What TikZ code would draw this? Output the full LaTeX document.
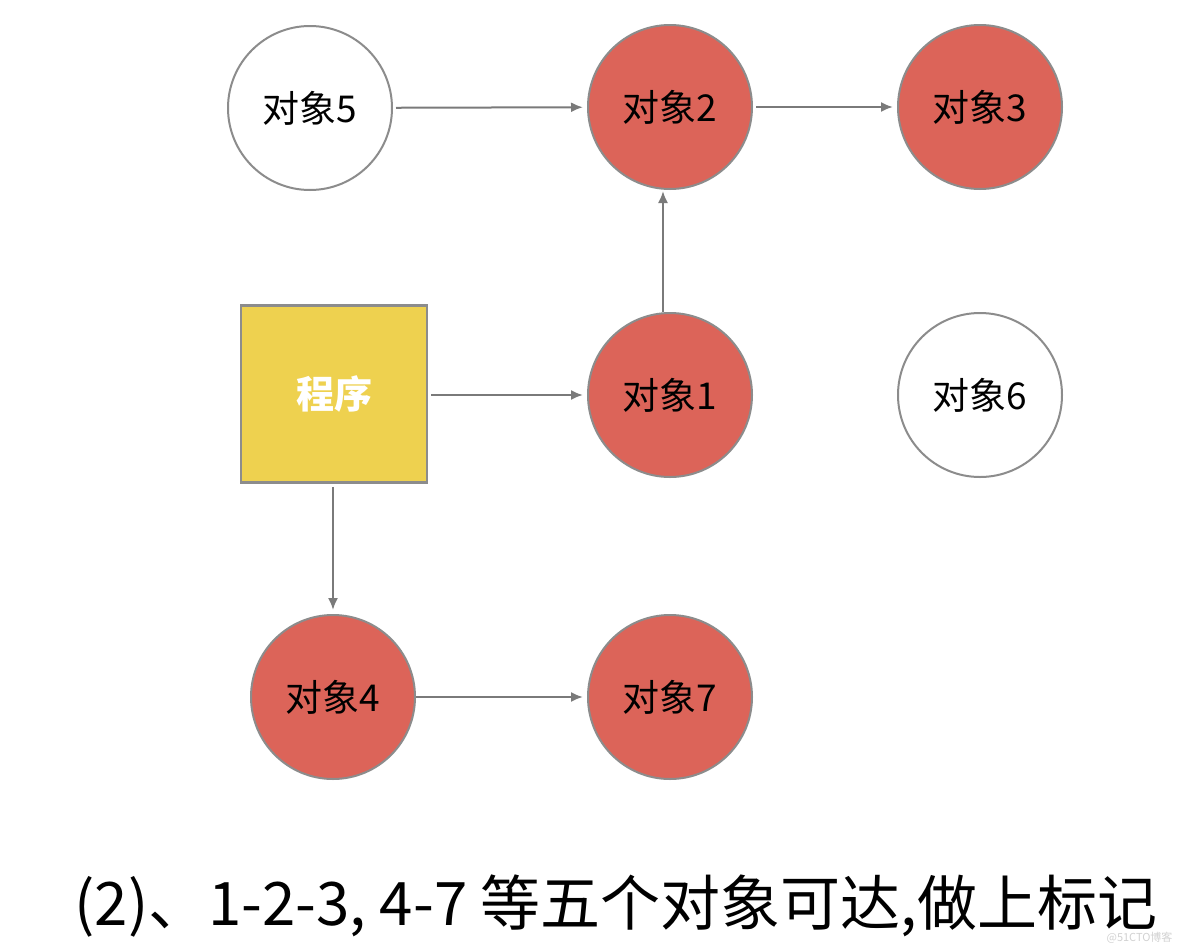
\documentclass[tikz,border=0pt]{standalone}
\usepackage{fontspec}
\setmainfont{Noto Sans CJK SC}
\usetikzlibrary{arrows.meta}
\definecolor{objred}{HTML}{DC6459}
\definecolor{progyellow}{HTML}{EED14F}
\definecolor{bordergray}{HTML}{8C8C8C}
\definecolor{arrowgray}{HTML}{7A7A7A}
\tikzset{
  obj/.style={circle, draw=bordergray, line width=2pt, minimum size=164pt, inner sep=0pt,
              font=\fontsize{37}{42}\selectfont, text=black},
  reached/.style={obj, fill=objred},
  unreached/.style={obj, fill=white},
  prog/.style={rectangle, draw=bordergray, line width=2.5pt, fill=progyellow,
               minimum width=186pt, minimum height=177pt, inner sep=0pt,
               font=\fontsize{38}{42}\selectfont\bfseries, text=white},
  arr/.style={draw=arrowgray, line width=2pt, -{Latex[length=12pt,width=10pt]},
              shorten <=3pt, shorten >=4pt},
}
\begin{document}
\begin{tikzpicture}[x=1pt,y=-1pt]
\useasboundingbox (0,0) rectangle (1184,951);
\node[unreached] (o5) at (310,108) {对象5};
\node[reached] (o2) at (670,107) {对象2};
\node[reached] (o3) at (980,107) {对象3};
\node[prog] (p) at (334,394) {程序};
\node[reached] (o1) at (670,395) {对象1};
\node[unreached] (o6) at (980,395) {对象6};
\node[reached] (o4) at (333,697) {对象4};
\node[reached] (o7) at (670,697) {对象7};

\draw[arr] (o5) -- (o2);
\draw[arr] (o2) -- (o3);
\draw[arr, shorten <=0pt, shorten >=1pt] ([xshift=-7pt]o1.north) -- ([xshift=-7pt]o2.south);
\draw[arr] (p.east |- o1) -- (o1);
\draw[arr] (p.south -| o4) -- (o4);
\draw[arr, shorten <=0pt] (o4) -- (o7);

\node[font=\fontsize{60}{66}\selectfont, text=black] (cap) at (616,906) {(2)、1-2-3, 4-7 等五个对象可达,做上标记};
\node[font=\fontsize{11}{13}\selectfont, text=black!18, anchor=east] (wm) at (1176,938) {@51CTO博客};
\end{tikzpicture}
\end{document}
